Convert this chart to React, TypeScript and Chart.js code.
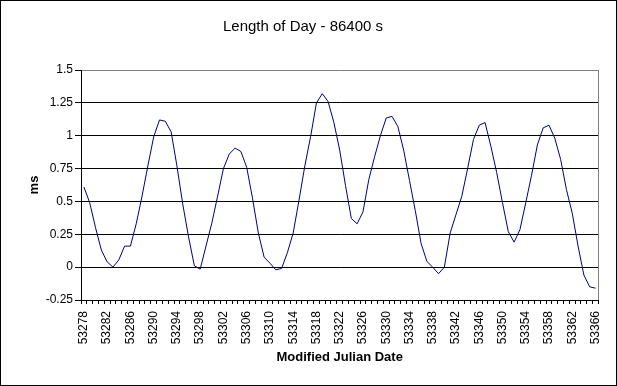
import React, { useEffect, useRef } from "react";
import { Chart, registerables } from "chart.js";

Chart.register(...registerables);

const categories: string[] = [
  "53278","53279","53280","53281","53282","53283","53284","53285","53286","53287",
  "53288","53289","53290","53291","53292","53293","53294","53295","53296","53297",
  "53298","53299","53300","53301","53302","53303","53304","53305","53306","53307",
  "53308","53309","53310","53311","53312","53313","53314","53315","53316","53317",
  "53318","53319","53320","53321","53322","53323","53324","53325","53326","53327",
  "53328","53329","53330","53331","53332","53333","53334","53335","53336","53337",
  "53338","53339","53340","53341","53342","53343","53344","53345","53346","53347",
  "53348","53349","53350","53351","53352","53353","53354","53355","53356","53357",
  "53358","53359","53360","53361","53362","53363","53364","53365","53366",
];

const lodValues: number[] = [
  0.61, 0.49, 0.30, 0.13, 0.04, 0.00, 0.055, 0.16, 0.16, 0.33,
  0.54, 0.77, 0.99, 1.12, 1.11, 1.03, 0.77, 0.48, 0.23, 0.01,
  -0.015, 0.16, 0.335, 0.54, 0.75, 0.86, 0.906, 0.88, 0.76, 0.525,
  0.26, 0.076, 0.03, -0.02, -0.01, 0.11, 0.26, 0.51, 0.77, 0.995,
  1.25, 1.32, 1.26, 1.10, 0.89, 0.62, 0.37, 0.33, 0.42, 0.665,
  0.84, 1.0, 1.135, 1.147, 1.07, 0.89, 0.66, 0.43, 0.18, 0.043,
  0.0, -0.05, 0.0, 0.26, 0.40, 0.54, 0.75, 0.97, 1.08, 1.10,
  0.92, 0.72, 0.49, 0.27, 0.19, 0.285, 0.49, 0.70, 0.93, 1.06,
  1.08, 0.98, 0.82, 0.59, 0.41, 0.16, -0.06, -0.15, -0.16,
];

const yTicks: number[] = [-0.25, 0, 0.25, 0.5, 0.75, 1, 1.25, 1.5];
const labelEvery = 4;

const chartTitle = "Length of Day - 86400 s";
const xTitle = "Modified Julian Date";
const yTitle = "ms";

export default function App() {
  const ref = useRef<HTMLCanvasElement>(null);

  useEffect(() => {
    document.body.style.margin = "0";
    const canvas = ref.current;
    if (!canvas) return;

    const decor = {
      id: "decor",
      beforeDraw(chart: any) {
        const c = chart.ctx;
        c.save();
        c.fillStyle = "#fff";
        c.fillRect(0, 0, chart.width, chart.height);
        c.restore();
      },
      afterDraw(chart: any) {
        const c = chart.ctx;
        const a = chart.chartArea;
        c.save();
        c.strokeStyle = "#808080";
        c.lineWidth = 1;
        c.beginPath();
        c.moveTo(Math.round(a.right) + 0.5, Math.round(a.top));
        c.lineTo(Math.round(a.right) + 0.5, Math.round(a.bottom));
        c.stroke();
        c.strokeStyle = "#000";
        c.strokeRect(0.5, 0.5, chart.width - 1, chart.height - 1);
        c.fillStyle = "#000";
        c.textAlign = "center";
        c.textBaseline = "middle";
        c.font = "15px 'Liberation Sans', Arial, sans-serif";
        c.fillText(chartTitle, 303, 27);
        c.font = "bold 13px 'Liberation Sans', Arial, sans-serif";
        c.fillText(xTitle, (a.left + a.right) / 2, 357);
        c.translate(34, (a.top + a.bottom) / 2);
        c.rotate(-Math.PI / 2);
        c.fillText(yTitle, 0, 0);
        c.restore();
      },
    };

    const chart = new Chart(canvas, {
      type: "line",
      data: {
        labels: categories,
        datasets: [
          {
            data: lodValues,
            borderColor: "#000080",
            borderWidth: 1,
            pointRadius: 0,
            tension: 0,
            fill: false,
          },
        ],
      },
      options: {
        animation: false,
        responsive: false,
        maintainAspectRatio: false,
        devicePixelRatio: 1,
        layout: { padding: { top: 70, right: 15, left: 0, bottom: 0 } },
        plugins: {
          legend: { display: false },
          title: { display: false },
          tooltip: { enabled: false },
        },
        scales: {
          x: {
            type: "category",
            offset: true,
            grid: {
              offset: true,
              drawOnChartArea: false,
              drawTicks: true,
              tickLength: 4,
              tickColor: "#000",
            },
            border: { color: "#000", width: 1 },
            ticks: {
              autoSkip: false,
              maxRotation: 90,
              minRotation: 90,
              padding: 7,
              color: "#000",
              font: { family: "'Liberation Sans', Arial, sans-serif", size: 12 },
              callback: (_v: any, i: number) => (i % labelEvery === 0 ? categories[i] : ""),
            },
            afterFit: (s: any) => {
              s.height = 86;
            },
          },
          y: {
            min: yTicks[0],
            max: yTicks[yTicks.length - 1],
            afterBuildTicks: (s: any) => {
              s.ticks = yTicks.map((v) => ({ value: v }));
            },
            grid: {
              color: (ctx: any) => (ctx.tick && ctx.tick.value === 1.5 ? "#808080" : "#000"),
              tickColor: "#000",
              tickLength: 6,
              drawTicks: true,
            },
            border: { color: "#000", width: 1 },
            ticks: {
              padding: 2,
              color: "#000",
              font: { family: "'Liberation Sans', Arial, sans-serif", size: 12 },
              callback: (v: any) => String(Number(Number(v).toFixed(2))),
            },
            afterFit: (s: any) => {
              s.width = 81;
            },
          },
        },
      },
      plugins: [decor],
    });

    return () => chart.destroy();
  }, []);

  return <canvas ref={ref} width={617} height={386} style={{ display: "block" }} />;
}
